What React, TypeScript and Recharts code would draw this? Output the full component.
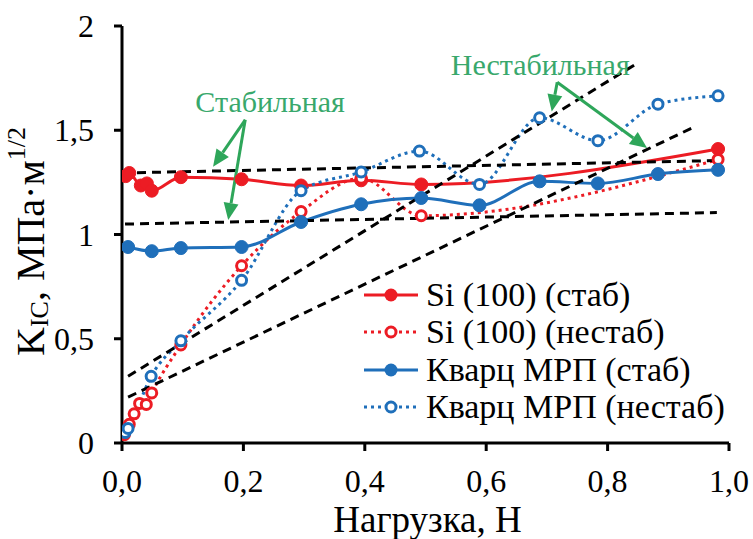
import React from "react";
import {
  ComposedChart,
  Line,
  XAxis,
  YAxis,
  ReferenceLine,
  ReferenceDot,
} from "recharts";

// Load, N
const siStabX = [0.006, 0.012, 0.031, 0.041, 0.049, 0.097, 0.197, 0.295, 0.394, 0.493, 0.982];
// K_IC, MPa·m^1/2
const siStabY = [1.28, 1.295, 1.235, 1.245, 1.21, 1.275, 1.265, 1.235, 1.26, 1.24, 1.41];

const siUnstabX = [0.004, 0.012, 0.02, 0.029, 0.04, 0.049, 0.097, 0.197, 0.295, 0.394, 0.493, 0.982];
const siUnstabY = [0.04, 0.09, 0.14, 0.19, 0.185, 0.24, 0.47, 0.85, 1.11, 1.27, 1.09, 1.36];

const qStabX = [0.01, 0.049, 0.097, 0.197, 0.295, 0.394, 0.493, 0.589, 0.688, 0.784, 0.883, 0.982];
const qStabY = [0.94, 0.92, 0.935, 0.94, 1.06, 1.145, 1.175, 1.14, 1.255, 1.245, 1.29, 1.31];

const qUnstabX = [0.005, 0.01, 0.048, 0.097, 0.197, 0.295, 0.394, 0.49, 0.589, 0.688, 0.784, 0.883, 0.982];
const qUnstabY = [0.05, 0.07, 0.32, 0.49, 0.78, 1.21, 1.3, 1.4, 1.24, 1.56, 1.45, 1.625, 1.665];

// Dashed trend lines: [x1, y1, x2, y2]
const trendUpperFlat = [0.0, 1.295, 0.985, 1.355];
const trendLowerFlat = [0.005, 1.05, 0.98, 1.105];
const trendSteep = [0.01, 0.32, 0.848, 1.82];
const trendShallow = [0.01, 0.22, 0.942, 1.515];

const xTicks = [0, 0.2, 0.4, 0.6, 0.8, 1.0];
const yTicks = [0, 0.5, 1, 1.5, 2];

const seriesNames = ["Si (100) (стаб)", "Si (100) (нестаб)", "Кварц МРП (стаб)", "Кварц МРП (нестаб)"];
const annotationStable = "Стабильная";
const annotationUnstable = "Нестабильная";
const xTitle = "Нагрузка, Н";

// Annotation anchors in data units: text centre, arrow origin, two arrow tips
const stableText = [0.244, 1.64];
const stableFrom = [0.203, 1.55];
const stableTips = [[0.15, 1.325], [0.175, 1.07]];
const unstableText = [0.689, 1.815];
const unstableFrom = [0.717, 1.73];
const unstableTips = [[0.708, 1.59], [0.865, 1.415]];

const RED = "#ec1c24";
const BLUE = "#1f6fba";
const GREEN = "#2ea65a";
const TEXT_GREEN = "#38a86c";
const FONT = "Liberation Serif";

const toPoints = (xs: number[], ys: number[]) => xs.map((x, i) => ({ x, y: ys[i] }));

const series = [
  { name: seriesNames[0], data: toPoints(siStabX, siStabY), color: RED, filled: true },
  { name: seriesNames[1], data: toPoints(siUnstabX, siUnstabY), color: RED, filled: false },
  { name: seriesNames[2], data: toPoints(qStabX, qStabY), color: BLUE, filled: true },
  { name: seriesNames[3], data: toPoints(qUnstabX, qUnstabY), color: BLUE, filled: false },
];

const trends = [trendUpperFlat, trendLowerFlat, trendSteep, trendShallow];

const fmtX = (v: number) => v.toFixed(1).replace(".", ",");
const fmtY = (v: number) => String(v).replace(".", ",");

const XTick = (props: any) => (
  <text
    x={props.x}
    y={props.y + 16}
    dy="0.71em"
    textAnchor="middle"
    style={{ fontFamily: FONT }}
    fontSize={32}
    fill="#000"
  >
    {fmtX(props.payload.value)}
  </text>
);

const YTick = (props: any) => (
  <text
    x={props.x - 18}
    y={props.y}
    textAnchor="end"
    dominantBaseline="central"
    style={{ fontFamily: FONT }}
    fontSize={32}
    fill="#000"
  >
    {fmtY(props.payload.value)}
  </text>
);

const Arrow = (props: any) => {
  const { x1, y1, x2, y2 } = props;
  const dx = x2 - x1;
  const dy = y2 - y1;
  const len = Math.sqrt(dx * dx + dy * dy) || 1;
  const ux = dx / len;
  const uy = dy / len;
  const headL = 17;
  const headW = 7.5;
  const bx = x2 - ux * headL;
  const by = y2 - uy * headL;
  const pts = `${x2},${y2} ${bx - uy * headW},${by + ux * headW} ${bx + uy * headW},${by - ux * headW}`;
  return (
    <g>
      <line x1={x1} y1={y1} x2={bx} y2={by} stroke={GREEN} strokeWidth={3} />
      <polygon points={pts} fill={GREEN} />
    </g>
  );
};

const makeTextShape = (txt: string) => (props: any) => (
  <text
    x={props.cx}
    y={props.cy}
    textAnchor="middle"
    dominantBaseline="central"
    style={{ fontFamily: FONT }}
    fontSize={30}
    fill={TEXT_GREEN}
  >
    {txt}
  </text>
);

const YTitle = (props: any) => {
  const vb = props.viewBox || { x: 0, y: 26, width: 122, height: 417 };
  const cx = vb.x + 30;
  const cy = vb.y + vb.height / 2 + 7;
  return (
    <text
      x={cx}
      y={cy}
      transform={`rotate(-90, ${cx}, ${cy})`}
      textAnchor="middle"
      dominantBaseline="central"
      style={{ fontFamily: FONT }}
      fontSize={40}
      fill="#000"
    >
      <tspan>K</tspan>
      <tspan fontSize={26} dy={9}>IC</tspan>
      <tspan dy={-9}>, МПа·м</tspan>
      <tspan fontSize={26} dy={-14}>1/2</tspan>
    </text>
  );
};

const XTitle = (props: any) => {
  const vb = props.viewBox || { x: 122, y: 443, width: 607, height: 96 };
  return (
    <text
      x={vb.x + vb.width / 2 + 2}
      y={vb.y + 89}
      textAnchor="middle"
      style={{ fontFamily: FONT }}
      fontSize={37}
      fill="#000"
    >
      {xTitle}
    </text>
  );
};

const LegendBox = () => (
  <div
    style={{
      position: "absolute",
      left: 362,
      top: 276,
      fontFamily: FONT,
      fontSize: 34,
      color: "#000",
    }}
  >
    {series.map((s) => (
      <div key={s.name} style={{ display: "flex", alignItems: "center", height: 37.5, whiteSpace: "nowrap" }}>
        <svg width={58} height={20} style={{ display: "block" }}>
          <line
            x1={2}
            y1={10}
            x2={56}
            y2={10}
            stroke={s.color}
            strokeWidth={3}
            strokeDasharray={s.filled ? undefined : "3 4"}
          />
          {s.filled ? (
            <circle cx={29} cy={10} r={6.5} fill={s.color} />
          ) : (
            <circle cx={29} cy={10} r={5} fill="#fff" stroke={s.color} strokeWidth={3} />
          )}
        </svg>
        <span style={{ marginLeft: 6, lineHeight: 1 }}>{s.name}</span>
      </div>
    ))}
  </div>
);

const axisLine = { stroke: "#000", strokeWidth: 3 };

export default function App() {
  return (
    <div style={{ position: "absolute", left: 0, top: 0, width: 753, height: 539, background: "#fff", fontFamily: FONT }}>
      <ComposedChart width={753} height={539} margin={{ top: 26, right: 24, left: 0, bottom: 0 }} style={{ fontFamily: FONT }}>
        <XAxis
          xAxisId="main"
          dataKey="x"
          type="number"
          domain={[0, 1]}
          ticks={xTicks}
          axisLine={axisLine}
          tickLine={axisLine}
          tickSize={8}
          tick={XTick}
          height={96}
          allowDataOverflow
          label={XTitle}
        />
        <XAxis
          xAxisId="frame"
          orientation="top"
          type="number"
          domain={[0, 1]}
          height={0}
          tick={false}
          tickLine={false}
          axisLine={axisLine}
        />
        <YAxis
          yAxisId="main"
          type="number"
          domain={[0, 2]}
          ticks={yTicks}
          axisLine={axisLine}
          tickLine={axisLine}
          tickSize={8}
          tick={YTick}
          width={122}
          allowDataOverflow
          label={YTitle}
        />
        <YAxis
          yAxisId="frame"
          orientation="right"
          type="number"
          domain={[0, 2]}
          width={0}
          tick={false}
          tickLine={false}
          axisLine={axisLine}
        />

        {series.map((s) => (
          <Line
            key={s.name}
            xAxisId="main"
            yAxisId="main"
            data={s.data}
            dataKey="y"
            name={s.name}
            type="monotone"
            stroke={s.color}
            strokeWidth={3}
            strokeDasharray={s.filled ? undefined : "3 4"}
            dot={
              s.filled
                ? { r: 6.5, fill: s.color, stroke: s.color, strokeWidth: 1, strokeDasharray: "" }
                : { r: 5, fill: "#fff", stroke: s.color, strokeWidth: 3, strokeDasharray: "" }
            }
            activeDot={false}
            isAnimationActive={false}
          />
        ))}

        {trends.map((t, i) => (
          <ReferenceLine
            key={`trend-${i}`}
            xAxisId="main"
            yAxisId="main"
            segment={[
              { x: t[0], y: t[1] },
              { x: t[2], y: t[3] },
            ]}
            stroke="#000"
            strokeWidth={3}
            strokeDasharray="9 6"
          />
        ))}

        {stableTips.map((tip, i) => (
          <ReferenceLine
            key={`sa-${i}`}
            xAxisId="main"
            yAxisId="main"
            segment={[
              { x: stableFrom[0], y: stableFrom[1] },
              { x: tip[0], y: tip[1] },
            ]}
            shape={Arrow}
          />
        ))}
        {unstableTips.map((tip, i) => (
          <ReferenceLine
            key={`ua-${i}`}
            xAxisId="main"
            yAxisId="main"
            segment={[
              { x: unstableFrom[0], y: unstableFrom[1] },
              { x: tip[0], y: tip[1] },
            ]}
            shape={Arrow}
          />
        ))}
        <ReferenceDot
          xAxisId="main"
          yAxisId="main"
          x={stableText[0]}
          y={stableText[1]}
          r={0}
          shape={makeTextShape(annotationStable)}
        />
        <ReferenceDot
          xAxisId="main"
          yAxisId="main"
          x={unstableText[0]}
          y={unstableText[1]}
          r={0}
          shape={makeTextShape(annotationUnstable)}
        />
      </ComposedChart>
      <LegendBox />
    </div>
  );
}
